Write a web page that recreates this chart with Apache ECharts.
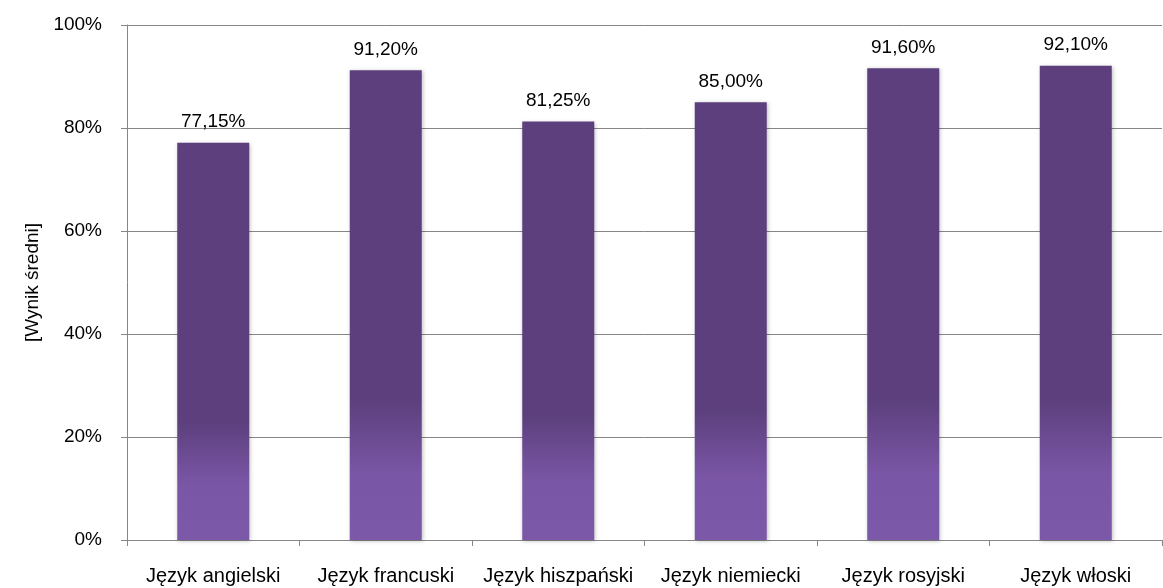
<!DOCTYPE html>
<html>
<head>
<meta charset="utf-8">
<script src="https://cdn.jsdelivr.net/npm/echarts@6/dist/echarts.min.js"></script>
<style>
  html, body { margin: 0; padding: 0; background: #fff; }
  #chart { width: 1163px; height: 588px; }
</style>
</head>
<body>
<div id="chart"></div>
<script>
// dane
const categories = ['Język angielski', 'Język francuski', 'Język hiszpański', 'Język niemiecki', 'Język rosyjski', 'Język włoski'];
const values = [77.15, 91.2, 81.25, 85.0, 91.6, 92.1];
const yTicks = [0, 20, 40, 60, 80, 100];

const font = 'Liberation Sans';
const chart = echarts.init(document.getElementById('chart'));

let option = {
  backgroundColor: '#fff',
  animation: false,
  grid: { left: 127, right: 1, top: 25, bottom: 48 },
  xAxis: {
    type: 'category',
    data: categories,
    axisLine: { lineStyle: { color: '#868686', width: 1 } },
    axisTick: { show: true, length: 6, lineStyle: { color: '#868686' } },
    axisLabel: { color: '#000', fontFamily: font, fontSize: 20, margin: 26, interval: 0 }
  },
  yAxis: {
    type: 'value',
    min: yTicks[0],
    max: yTicks[yTicks.length - 1],
    interval: 20,
    name: '[Wynik średni]',
    nameLocation: 'middle',
    nameGap: 84,
    nameTextStyle: { color: '#000', fontFamily: font, fontSize: 19 },
    axisLine: { show: true, lineStyle: { color: '#868686', width: 1 } },
    axisTick: { show: true, length: 6, lineStyle: { color: '#868686' } },
    axisLabel: {
      color: '#000', fontFamily: font, fontSize: 19, margin: 25,
      formatter: v => v + '%'
    },
    splitLine: { lineStyle: { color: '#868686', width: 1 } }
  },
  series: [{
    type: 'bar',
    data: values,
    barWidth: 72,
    itemStyle: {
      color: new echarts.graphic.LinearGradient(0, 0, 0, 1, [
        { offset: 0, color: '#5c3f7c' },
        { offset: 0.7, color: '#5c3f7c' },
        { offset: 0.86, color: '#7a56a6' },
        { offset: 1, color: '#7c58a8' }
      ]),
      shadowColor: 'rgba(0,0,0,0.25)',
      shadowBlur: 4,
      shadowOffsetX: 1,
      shadowOffsetY: 1
    },
    label: {
      show: true,
      position: 'top',
      distance: 11,
      color: '#000',
      fontFamily: font,
      fontSize: 19,
      formatter: p => p.value.toFixed(2).replace('.', ',') + '%'
    }
  }]
};
chart.setOption(option);
</script>
</body>
</html>
